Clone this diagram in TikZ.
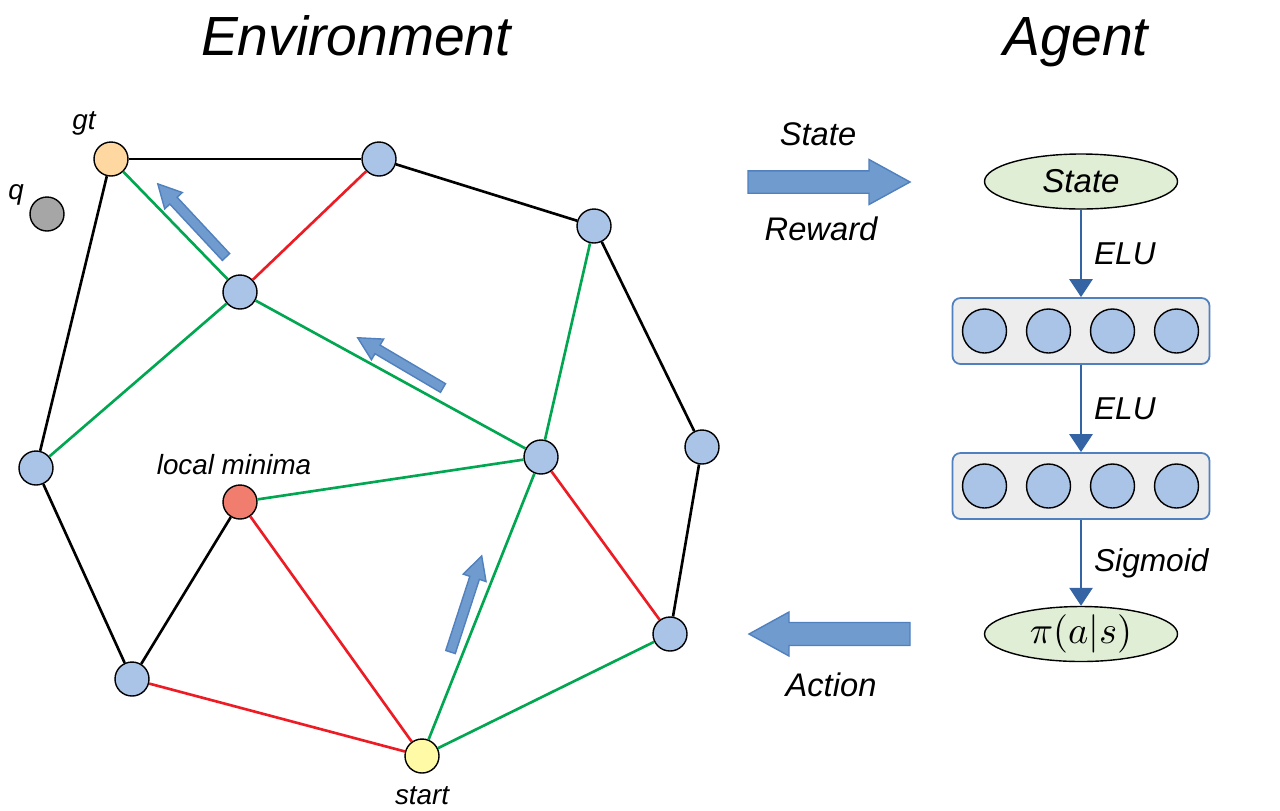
\documentclass[tikz,border=0pt]{standalone}
\usepackage[no-math]{fontspec}
\setmainfont{Liberation Sans}
\usetikzlibrary{arrows.meta}
\usetikzlibrary{positioning}
\usetikzlibrary{shapes.geometric}

\definecolor{nodeblue}{RGB}{170,196,232}
\definecolor{gtorange}{RGB}{255,215,160}
\definecolor{startyellow}{RGB}{255,250,165}
\definecolor{minred}{RGB}{240,125,110}
\definecolor{qgray}{RGB}{166,166,166}
\definecolor{edgegreen}{RGB}{0,166,80}
\definecolor{edgered}{RGB}{237,28,36}
\definecolor{fatfill}{RGB}{112,155,206}
\definecolor{fatline}{RGB}{80,128,190}
\definecolor{statefill}{RGB}{223,238,213}
\definecolor{layerfill}{RGB}{237,237,237}
\definecolor{flowblue}{RGB}{52,100,164}

\tikzset{
  vertex/.style={circle, draw=black, line width=0.4pt, fill=nodeblue, minimum size=0.34cm, inner sep=0pt},
  lbl/.style={font=\fontsize{7.9}{9}\selectfont\itshape, inner sep=0pt},
  txt/.style={font=\fontsize{9.3}{11}\selectfont\itshape, inner sep=0pt},
  title/.style={font=\fontsize{15.7}{19}\selectfont\itshape, inner sep=0pt, anchor=base},
  blk/.style={line width=0.75pt, black},
  grn/.style={line width=0.75pt, edgegreen},
  rd/.style={line width=0.75pt, edgered},
  fatblue/.style={fill=fatfill, draw=fatline, line width=0.4pt},
  io/.style={ellipse, draw=black, line width=0.4pt, fill=statefill, minimum width=1.93cm, minimum height=0.55cm, inner sep=0pt},
  layer/.style={rectangle, rounded corners=0.08cm, draw=fatline, line width=0.5pt, fill=layerfill, minimum width=2.57cm, minimum height=0.66cm},
  unit/.style={circle, draw=black, line width=0.4pt, fill=nodeblue, minimum size=0.44cm, inner sep=0pt},
  flow/.style={flowblue, line width=0.8pt, -{Triangle[width=0.23cm, length=0.18cm]}},
  flowlbl/.style={font=\fontsize{9}{11}\selectfont\itshape, text=black, right}
}

% tail, angle, length, shaft half width, head half width, head length
\newcommand{\fatarrow}[6]{%
  \begin{scope}[shift={#1}, rotate=#2]
    \filldraw[fatblue] (0,-#4) -- ({#3-#6},-#4) -- ({#3-#6},-#5) -- (#3,0)
      -- ({#3-#6},#5) -- ({#3-#6},#4) -- (0,#4) -- cycle;
  \end{scope}}

\begin{document}
\begin{tikzpicture}
\useasboundingbox (0,0) rectangle (12.8,8.1);

% titles
\node[title] (envtitle) at (3.56,7.55) {Environment};
\node[title] (agenttitle) at (10.76,7.55) {Agent};

% graph
\node[vertex, fill=gtorange] (gt) at (1.11,6.51) {};
\node[vertex] (top) at (3.79,6.51) {};
\node[vertex] (upright) at (5.94,5.84) {};
\node[vertex] (mid) at (2.40,5.18) {};
\node[vertex, fill=qgray] (q) at (0.47,5.96) {};
\node[vertex] (left) at (0.36,3.42) {};
\node[vertex] (hub) at (5.41,3.53) {};
\node[vertex] (right) at (7.02,3.63) {};
\node[vertex, fill=minred] (lm) at (2.40,3.08) {};
\node[vertex] (lowleft) at (1.32,1.31) {};
\node[vertex] (lowright) at (6.70,1.76) {};
\node[vertex, fill=startyellow] (start) at (4.22,0.54) {};

\node[lbl] (gtlbl) at (0.84,6.87) {gt};
\node[lbl] (qlbl) at (0.16,6.15) {q};
\node[lbl] (lmlbl) at (2.34,3.45) {local minima};
\node[lbl] (startlbl) at (4.22,0.14) {start};

\draw[blk] (gt) -- (top);
\draw[blk] (top) -- (upright);
\draw[blk] (gt) -- (left);
\draw[blk] (upright) -- (right);
\draw[blk] (right) -- (lowright);
\draw[blk] (left) -- (lowleft);
\draw[blk] (lowleft) -- (lm);
\draw[grn] (gt) -- (mid);
\draw[grn] (mid) -- (left);
\draw[grn] (mid) -- (hub);
\draw[grn] (upright) -- (hub);
\draw[grn] (hub) -- (lm);
\draw[grn] (hub) -- (start);
\draw[grn] (start) -- (lowright);
\draw[rd] (top) -- (mid);
\draw[rd] (hub) -- (lowright);
\draw[rd] (lm) -- (start);
\draw[rd] (lowleft) -- (start);

% path arrows
\fatarrow{(2.26,5.53)}{133}{1.0}{0.05}{0.12}{0.23}
\fatarrow{(4.43,4.22)}{149.5}{0.99}{0.05}{0.12}{0.23}
\fatarrow{(4.505,1.58)}{72}{1.01}{0.05}{0.12}{0.23}

% interface
\fatarrow{(7.48,6.28)}{0}{1.62}{0.112}{0.225}{0.41}
\fatarrow{(9.10,1.76)}{180}{1.61}{0.115}{0.22}{0.40}
\node[txt] (statelbl) at (8.18,6.76) {State};
\node[txt] (rewardlbl) at (8.21,5.81) {Reward};
\node[txt] (actionlbl) at (8.31,1.25) {Action};

% agent
\node[io] (state) at (10.81,6.285) {\fontsize{9.4}{11}\selectfont\itshape State};
\node[layer] (layer1) at (10.81,4.79) {};
\node[layer] (layer2) at (10.81,3.24) {};
\node[io] (policy) at (10.81,1.76) {\fontsize{11}{13}\selectfont$\pi\!\left(a\middle|s\right)$};
\foreach \i in {0,...,3} {
  \node[unit] (u1\i) at ([xshift={(\i*0.64-0.965)*1cm}]layer1.center) {};
  \node[unit] (u2\i) at ([xshift={(\i*0.64-0.965)*1cm}]layer2.center) {};
}
\draw[flow] (state) -- (layer1) node[midway, flowlbl] {ELU};
\draw[flow] (layer1) -- (layer2) node[midway, flowlbl] {ELU};
\draw[flow] (layer2) -- (policy) node[midway, flowlbl] {Sigmoid};
\end{tikzpicture}
\end{document}
